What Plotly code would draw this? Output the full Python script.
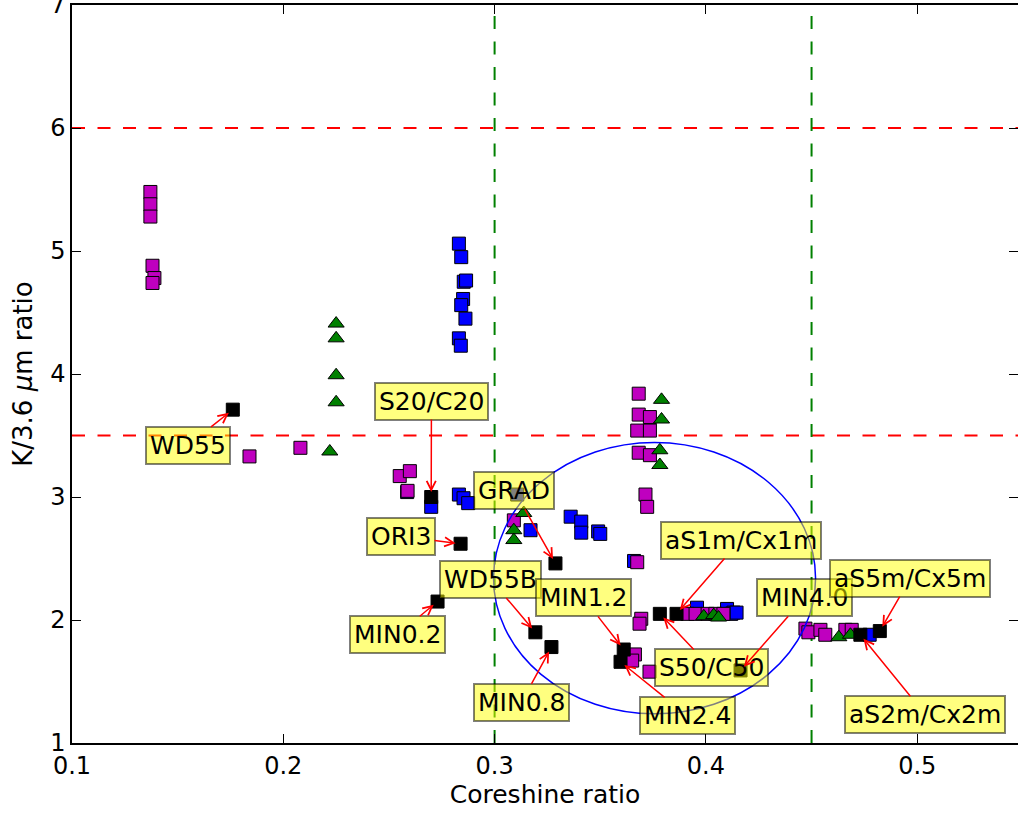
import plotly.graph_objects as go

# ---------------- data ----------------
blue_x = [0.2831, 0.2842, 0.2854, 0.2865, 0.2851, 0.2842, 0.2862, 0.2831, 0.2840,
          0.2700, 0.2831, 0.2853, 0.2875, 0.2586, 0.3107, 0.3170,
          0.3360, 0.3410, 0.3410, 0.3490, 0.3500, 0.3660,
          0.3958, 0.4100, 0.4130, 0.4120, 0.4145, 0.4775]
blue_y = [5.06, 4.95, 4.75, 4.76, 4.61, 4.56, 4.45, 4.29, 4.23,
          2.92, 3.02, 2.99, 2.95, 3.04, 3.02, 2.73,
          2.84, 2.80, 2.71, 2.72, 2.70, 2.48,
          2.10, 2.09, 2.06, 2.05, 2.06, 1.88]

magenta_x = [0.1371, 0.1371, 0.1371, 0.1381, 0.1390, 0.1381, 0.1840, 0.2081,
             0.2551, 0.2599, 0.2588, 0.3091, 0.3675,
             0.3682, 0.3682, 0.3735, 0.3675, 0.3735, 0.3682, 0.3735, 0.3714, 0.3722,
             0.3694, 0.3686, 0.3664, 0.3651, 0.3733,
             0.3913, 0.3951, 0.4008, 0.4045, 0.4083,
             0.4471, 0.4485, 0.4542, 0.4565, 0.4660, 0.4690]
magenta_y = [5.48, 5.38, 5.28, 4.88, 4.78, 4.74, 3.33, 3.40,
             3.17, 3.21, 3.05, 2.81, 2.47,
             3.84, 3.67, 3.65, 3.54, 3.54, 3.36, 3.34, 3.02, 2.92,
             2.01, 1.97, 1.72, 1.67, 1.58,
             2.05, 2.05, 2.05, 2.05, 2.05,
             1.93, 1.90, 1.92, 1.88, 1.92, 1.92]

green_x = [0.2250, 0.2250, 0.2250, 0.2250, 0.2220, 0.3138, 0.3091, 0.3091,
           0.3790, 0.3790, 0.3782, 0.3782, 0.3990, 0.4037, 0.4060, 0.4629, 0.4684]
green_y = [4.41, 4.29, 3.99, 3.77, 3.37, 2.87, 2.73, 2.65,
           3.79, 3.63, 3.38, 3.26, 2.03, 2.04, 2.02, 1.86, 1.88]

black_names = ["WD55", "S20/C20", "ORI3", "GRAD", "MIN0.2", "WD55B", "MIN0.8",
               "MIN1.2", "MIN2.4", "S50/C50", "aS1m/Cx1m", "MIN4.0",
               "aS2m/Cx2m", "aS5m/Cx5m"]
black_x = [0.1761, 0.2700, 0.2839, 0.3288, 0.2730, 0.3193, 0.3269,
           0.3611, 0.3596, 0.3782, 0.3861, 0.4164, 0.4731, 0.4823]
black_y = [3.71, 3.00, 2.62, 2.46, 2.15, 1.90, 1.78,
           1.76, 1.66, 2.05, 2.05, 1.59, 1.88, 1.91]

# label box centres (same order as black_names)
label_x = [0.1547, 0.2701, 0.2555, 0.3094, 0.2540, 0.2981, 0.3127,
           0.3421, 0.3913, 0.4026, 0.4164, 0.4467, 0.5039, 0.4968]
label_y = [3.42, 3.78, 2.68, 3.05, 1.88, 2.33, 1.33,
           2.18, 1.22, 1.61, 2.65, 2.18, 1.23, 2.34]

hlines_y = [6.0, 3.5]
vlines_x = [0.30, 0.45]
ellipse_center = (0.3757, 2.34)
ellipse_radii = (0.0762, 1.103)

x_ticks = [0.1, 0.2, 0.3, 0.4, 0.5]
y_ticks = [1, 2, 3, 4, 5, 6, 7]

FONT = "DejaVu Sans"

fig = go.Figure()

mk_line = dict(color="black", width=1)
fig.add_trace(go.Scatter(x=blue_x, y=blue_y, mode="markers", cliponaxis=False,
                         marker=dict(symbol="square", size=13, color="#0000ff", line=mk_line)))
fig.add_trace(go.Scatter(x=magenta_x, y=magenta_y, mode="markers", cliponaxis=False,
                         marker=dict(symbol="square", size=13, color="#bf00bf", line=mk_line)))
fig.add_trace(go.Scatter(x=green_x, y=green_y, mode="markers", cliponaxis=False,
                         marker=dict(symbol="triangle-up", size=14, color="#008000", line=mk_line)))
fig.add_trace(go.Scatter(x=black_x, y=black_y, mode="markers", cliponaxis=False,
                         marker=dict(symbol="square", size=13, color="#000000", line=mk_line)))

shapes = []
for yv in hlines_y:
    shapes.append(dict(type="line", xref="paper", yref="y", x0=0, x1=1, y0=yv, y1=yv,
                       line=dict(color="#ff0000", width=2, dash="13px,12.5px"), layer="below"))
for xv in vlines_x:
    shapes.append(dict(type="line", xref="x", yref="paper", x0=xv, x1=xv, y0=0, y1=1,
                       line=dict(color="#008000", width=2, dash="13px,12.5px"), layer="below"))
cx, cy = ellipse_center
rx, ry = ellipse_radii
shapes.append(dict(type="circle", xref="x", yref="y", x0=cx - rx, x1=cx + rx,
                   y0=cy - ry, y1=cy + ry, line=dict(color="#0000ff", width=1.5),
                   layer="above"))

annotations = []
for name, tx, ty, lx, ly in zip(black_names, black_x, black_y, label_x, label_y):
    annotations.append(dict(
        x=tx, y=ty, xref="x", yref="y", ax=lx, ay=ly, axref="x", ayref="y",
        text=name, showarrow=True, arrowhead=5, arrowsize=1.2, arrowwidth=1.5,
        arrowcolor="#ff0000", standoff=5,
        font=dict(family=FONT, size=25, color="black"),
        bgcolor="rgba(255,255,0,0.5)", bordercolor="rgba(0,0,0,0.5)",
        borderwidth=2, borderpad=3))

fig.update_layout(
    width=1018, height=814,
    margin=dict(l=72, r=0, t=5, b=71, autoexpand=False),
    paper_bgcolor="white", plot_bgcolor="white",
    showlegend=False,
    font=dict(family=FONT, size=24, color="black"),
    shapes=shapes, annotations=annotations,
    xaxis=dict(range=[0.1, 0.5477], tickvals=x_ticks, ticktext=[f"{v:.1f}" for v in x_ticks],
               showgrid=False, zeroline=False, showline=True, linecolor="black", linewidth=1.5,
               mirror="ticks", ticks="inside", ticklen=9, tickcolor="black", tickwidth=1,
               automargin=False, ticklabeloverflow="allow",
               title=dict(text="Coreshine ratio", font=dict(size=25), standoff=4),
               tickfont=dict(size=24)),
    yaxis=dict(range=[1, 7], tickvals=y_ticks, showgrid=False, zeroline=False,
               showline=True, linecolor="black", linewidth=1.5, mirror="ticks",
               ticks="inside", ticklen=9, tickcolor="black", tickwidth=1,
               automargin=False, ticklabeloverflow="allow",
               title=dict(text="K/3.6 <i>μ</i>m ratio", font=dict(size=26), standoff=10),
               tickfont=dict(size=24)),
)

fig.write_html("out.html", config={"displayModeBar": False},
               post_script="document.body.style.margin='0px';")
